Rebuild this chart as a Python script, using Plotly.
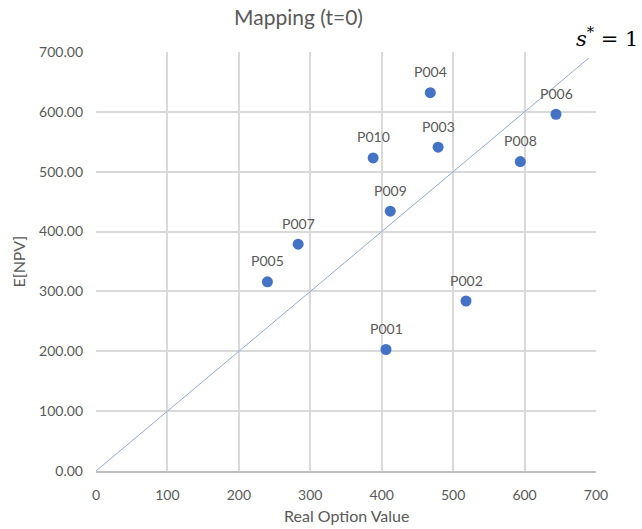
import plotly.graph_objects as go

projects = ["P001", "P002", "P003", "P004", "P005", "P006", "P007", "P008", "P009", "P010"]
real_option_value = [406, 518, 479, 468, 240, 644, 283, 594, 412, 388]
expected_npv = [203, 284, 541, 632, 316, 596, 379, 517, 434, 523]

diag_x = [0, 690]
diag_y = [0, 690]

x_ticks = [0, 100, 200, 300, 400, 500, 600, 700]
y_ticks = [0, 100, 200, 300, 400, 500, 600, 700]

font_family = "Lato, 'Open Sans', sans-serif"
gray = "#595959"

fig = go.Figure()
fig.add_trace(go.Scatter(
    x=diag_x, y=diag_y, mode="lines",
    line=dict(color="#8FAADC", width=1),
    hoverinfo="skip", showlegend=False,
))
fig.add_trace(go.Scatter(
    x=real_option_value, y=expected_npv, mode="markers",
    marker=dict(color="#4472C4", size=11),
    showlegend=False,
))

annotations = [
    dict(x=xv, y=yv, text=name, xref="x", yref="y", showarrow=False,
         yshift=21, xanchor="center", yanchor="middle",
         font=dict(family=font_family, size=14, color=gray))
    for name, xv, yv in zip(projects, real_option_value, expected_npv)
]
annotations.append(dict(
    text="<i>s</i><sup>*</sup> = 1", xref="paper", yref="paper",
    x=1.088, y=1.035, xanchor="right", yanchor="middle", showarrow=False,
    font=dict(family="'DejaVu Serif', 'Liberation Serif', serif", size=21, color="black"),
))
annotations.append(dict(
    text="Real Option Value", xref="paper", yref="paper",
    x=0.5, y=-0.107, xanchor="center", yanchor="middle", showarrow=False,
    font=dict(family=font_family, size=16, color=gray),
))
annotations.append(dict(
    text="E[NPV]", xref="paper", yref="paper", textangle=-90,
    x=-0.156, y=0.5, xanchor="center", yanchor="middle", showarrow=False,
    font=dict(family=font_family, size=16, color=gray),
))

fig.update_layout(
    width=642, height=529,
    margin=dict(l=96, r=46, t=52, b=58, autoexpand=False),
    paper_bgcolor="white", plot_bgcolor="white",
    title=dict(text="Mapping (t=0)", x=0.465, xanchor="center", y=0.967, yanchor="middle",
               font=dict(family=font_family, size=21, color=gray)),
    xaxis=dict(range=[0, 700], tickvals=x_ticks, ticktext=[str(v) for v in x_ticks],
               showgrid=True, gridcolor="#D9D9D9", gridwidth=1.5,
               showline=True, linecolor="#BFBFBF", linewidth=1.5,
               zeroline=False, ticks="", ticklabelstandoff=10, automargin=False,
               tickfont=dict(family=font_family, size=14, color=gray)),
    yaxis=dict(range=[0, 700], tickvals=y_ticks, ticktext=[f"{v:.2f}" for v in y_ticks],
               showgrid=True, gridcolor="#D9D9D9", gridwidth=1.5,
               showline=False, zeroline=False, ticks="", ticklabelstandoff=12, automargin=False,
               tickfont=dict(family=font_family, size=14, color=gray)),
    annotations=annotations,
)

fig.write_html("out.html")
